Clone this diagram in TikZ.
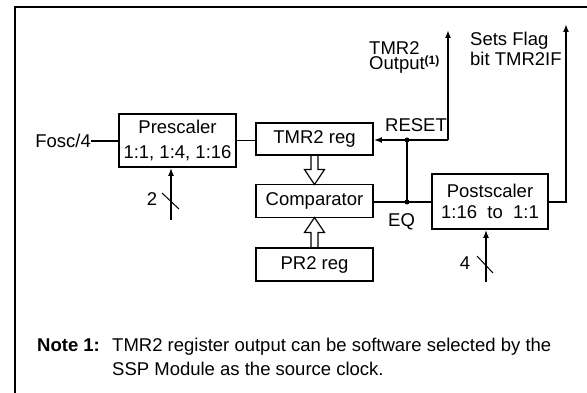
\documentclass[tikz,border=0pt]{standalone}
\usepackage{fontspec}
\setmainfont{Liberation Sans}
\usetikzlibrary{arrows.meta,calc}
\begin{document}
\begin{tikzpicture}[x=1pt,y=-1pt,
  font=\fontsize{18.5}{21}\selectfont,
  box/.style={draw, line width=1.8pt, minimum width=117pt, inner sep=0pt, align=center},
  wire/.style={line width=1.6pt},
  arr/.style={wire, -{Latex[length=8pt,width=6pt]}},
  hollow/.style={line width=1.2pt, fill=white},
  dot/.style={circle, fill, inner sep=0pt, minimum size=5pt},
  lbl/.style={inner sep=0pt, anchor=base west},
  slash/.style={line width=1pt}]
\useasboundingbox (0,0) rectangle (587,393);
\draw[line width=2.2pt] (15,393) -- (15,7) -- (587,7);

% block positions
\coordinate (ptmr) at (314.5,139);
\coordinate (pcmp) at (314.5,201);
\coordinate (ppr) at (314.5,264.5);

% hollow bus arrows
\path (ptmr) +(0,16) coordinate (tmrS);
\path (pcmp) +(0,-16.5) coordinate (cmpN);
\path (pcmp) +(0,16.5) coordinate (cmpS);
\path (ppr) +(0,-16.5) coordinate (prN);
\draw[hollow] ($(tmrS)+(-3.5,0)$) -- ($(cmpN)+(-3.5,-15)$) -- ($(cmpN)+(-10,-15)$) -- (cmpN) -- ($(cmpN)+(10,-15)$) -- ($(cmpN)+(3.5,-15)$) -- ($(tmrS)+(3.5,0)$);
\draw[hollow] ($(prN)+(-3.5,0)$) -- ($(cmpS)+(-3.5,15)$) -- ($(cmpS)+(-10,15)$) -- (cmpS) -- ($(cmpS)+(10,15)$) -- ($(cmpS)+(3.5,15)$) -- ($(prN)+(3.5,0)$);

\node[box, minimum height=53pt, font=\fontsize{18.5}{25}\selectfont] (pre) at (177.5,140.5) {Prescaler\\1:1, 1:4, 1:16};
\node[box, minimum height=32pt] (tmr) at (ptmr) {TMR2 reg};
\node[box, minimum height=33pt] (cmp) at (pcmp) {Comparator};
\node[box, minimum height=33pt] (pr) at (ppr) {PR2 reg};
\node[box, minimum width=116pt, minimum height=55pt, font=\fontsize{18.5}{21.5}\selectfont] (post) at (490,201.5) {Postscaler\\1:16\ \ to\ \ 1:1};

\node[anchor=east, inner sep=0pt] (fosc) at (91,141) {Fosc/4};
\draw[wire] (fosc.east) -- (fosc.east -| pre.west);
\draw[wire] (pre.east) -- (pre.east -| tmr.west);

\coordinate (rj) at (407,140);
\coordinate (ej) at (407,202);
\coordinate (rc) at (448,140);
\coordinate (otop) at (448,30);
\coordinate (fc) at (566,202);
\coordinate (ftop) at (566,24);
\draw[arr] (rc) -- (rc -| tmr.east);
\draw[arr] (rc) -- (otop);
\draw[wire] (ej) -- (rj);
\draw[wire] (ej -| cmp.east) -- (ej) -- (ej -| post.west);
\draw[arr] (fc -| post.east) -- (fc) -- (ftop);
\node[dot] at (rj) {};
\node[dot] at (ej) {};

\coordinate (b2) at (171,220);
\draw[arr] (b2) -- (b2 |- pre.south);
\draw[slash] (162,193) -- (179,209);
\node[inner sep=0pt] (n2) at (152,199) {2};
\coordinate (b4) at (486,282);
\draw[arr] (b4) -- (b4 |- post.south);
\draw[slash] (477,256) -- (493,273);
\node[inner sep=0pt] (n4) at (465,263) {4};

\node[lbl] (reset) at (385,132) {RESET};
\node[lbl] (eq) at (388,226) {EQ};
\node[inner sep=0pt, anchor=north west, align=left, font=\fontsize{18.5}{15.5}\selectfont] (out) at (369,41.3) {TMR2\\Output\raisebox{5pt}{\fontsize{12}{13}\selectfont\bfseries(1)}};
\node[lbl] (flag1) at (470,46) {Sets Flag};
\node[lbl] (flag2) at (470,66) {bit TMR2IF};
\node[lbl] (note) at (37,351) {\bfseries Note 1:};
\node[lbl] (note1) at (112,351) {TMR2 register output can be software selected by the};
\node[lbl] (note2) at (112,375) {SSP Module as the source clock.};
\end{tikzpicture}
\end{document}
